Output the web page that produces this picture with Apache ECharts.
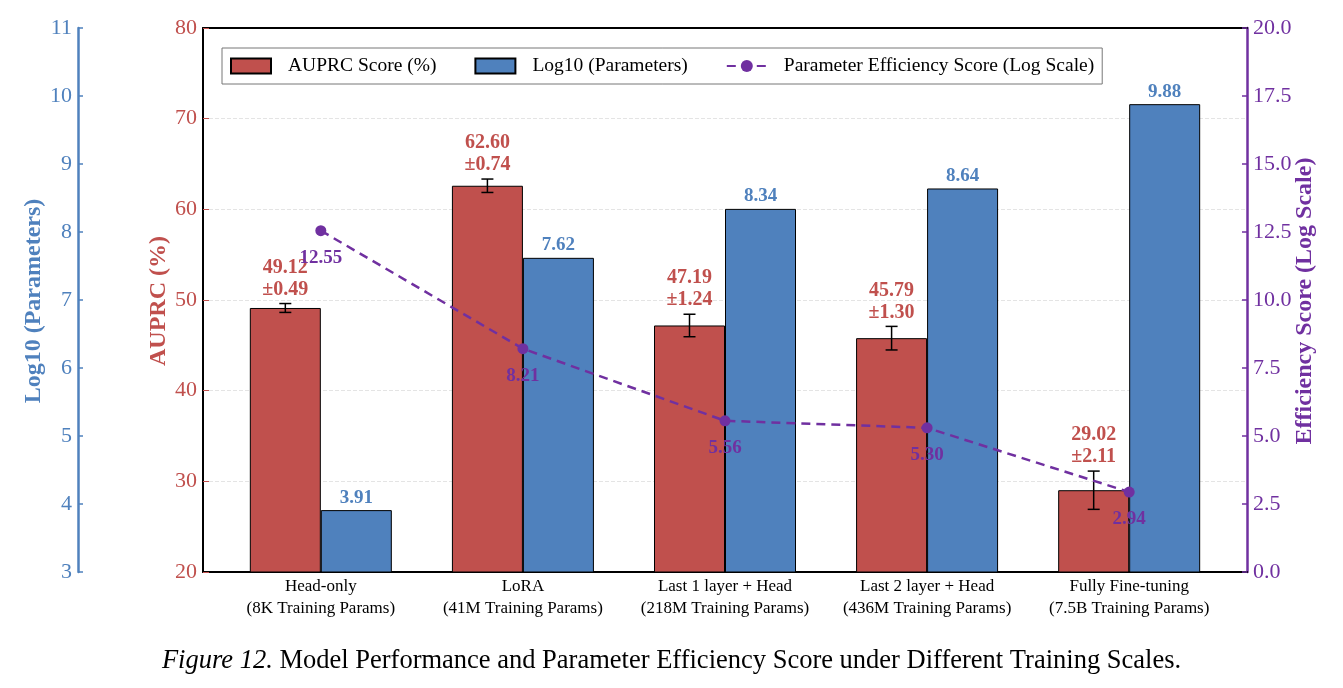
<!DOCTYPE html>
<html>
<head>
<meta charset="utf-8">
<script src="https://cdn.jsdelivr.net/npm/echarts@6/dist/echarts.min.js"></script>
<style>
  html, body { margin: 0; padding: 0; background: #fff; }
  #chart { width: 1343px; height: 688px; }
</style>
</head>
<body>
<div id="chart"></div>
<script>
// ---- data ----
var CATEGORIES = [
  'Head-only\n(8K Training Params)',
  'LoRA\n(41M Training Params)',
  'Last 1 layer + Head\n(218M Training Params)',
  'Last 2 layer + Head\n(436M Training Params)',
  'Fully Fine-tuning\n(7.5B Training Params)'
];
var AUPRC_MEAN = [49.12, 62.60, 47.19, 45.79, 29.02];
var AUPRC_STD = [0.49, 0.74, 1.24, 1.30, 2.11];
var LOG_PARAMS = [3.91, 7.62, 8.34, 8.64, 9.88];
var EFFICIENCY = [12.55, 8.21, 5.56, 5.30, 2.94];

// ---- style ----
var RED = '#C0504D';
var BLUE = '#4F81BD';
var PURPLE = '#7030A0';
var FONT = '"Liberation Serif", "DejaVu Serif", serif';
var BAR_W = 71;

var chart = echarts.init(document.getElementById('chart'));

var xIdx = CATEGORIES.map(function (c, i) { return i; });

var errorData = xIdx.map(function (i) {
  return [i, AUPRC_MEAN[i], AUPRC_STD[i]];
});

// error bar on the red bar plus its two-line value label
function renderError(params, api) {
  var x = api.value(0), m = api.value(1), s = api.value(2);
  var cx = api.coord([x, m])[0] - BAR_W / 2;
  var yt = api.coord([x, m + s])[1];
  var yb = api.coord([x, m - s])[1];
  var cap = 6;
  var st = { stroke: '#000', lineWidth: 1.5 };
  return {
    type: 'group',
    children: [
      { type: 'line', shape: { x1: cx, y1: yt, x2: cx, y2: yb }, style: st },
      { type: 'line', shape: { x1: cx - cap, y1: yt, x2: cx + cap, y2: yt }, style: st },
      { type: 'line', shape: { x1: cx - cap, y1: yb, x2: cx + cap, y2: yb }, style: st },
      {
        type: 'text',
        x: cx, y: yt - 3,
        style: {
          text: m.toFixed(2) + '\n\u00b1' + s.toFixed(2),
          fill: RED, font: 'bold 20px ' + FONT,
          align: 'center', verticalAlign: 'bottom', lineHeight: 22
        }
      }
    ]
  };
}

// axis titles: drawn as rotated bold text beside each axis
// (nameTextStyle.fontWeight did not come out bold)
function axisTitle(text, cx, color) {
  return {
    type: 'text',
    x: cx, y: 301,
    rotation: Math.PI / 2,
    style: {
      text: text, fill: color, font: 'bold 24px ' + FONT,
      align: 'center', verticalAlign: 'middle'
    }
  };
}

chart.setOption({
  animation: false,
  title: {
    left: 'center',
    top: 643,
    text: '{i|Figure 12.} Model Performance and Parameter Efficiency Score under Different Training Scales.',
    textStyle: {
      fontFamily: FONT, fontSize: 26.5, fontWeight: 'normal', color: '#000',
      rich: { i: { fontFamily: FONT, fontSize: 26.5, fontStyle: 'italic', color: '#000' } }
    }
  },
  graphic: [
    axisTitle('AUPRC (%)', 159, RED),
    axisTitle('Log10 (Parameters)', 34, BLUE),
    axisTitle('Efficiency Score (Log Scale)', 1305, PURPLE)
  ],
  legend: {
    left: 222, top: 48,
    padding: [8, 8, 8, 8],
    itemWidth: 40, itemHeight: 15, itemGap: 38,
    borderColor: '#777', borderWidth: 1,
    textStyle: { fontFamily: FONT, fontSize: 19.5, color: '#000', padding: [0, 0, 0, 12] },
    data: [
      { name: 'AUPRC Score (%)', icon: 'rect' },
      { name: 'Log10 (Parameters)', icon: 'rect' },
      { name: 'Parameter Efficiency Score (Log Scale)' }
    ]
  },
  grid: { left: 203, right: 96, top: 28, bottom: 116, containLabel: false },
  xAxis: [{
    type: 'value', min: -0.583, max: 4.583,
    axisLine: { show: true, onZero: false, lineStyle: { color: '#000', width: 2 } },
    axisTick: { show: false },
    splitLine: { show: false },
    axisLabel: {
      customValues: xIdx,
      formatter: function (v) { return CATEGORIES[Math.round(v)]; },
      fontFamily: FONT, fontSize: 17, color: '#000', lineHeight: 22, margin: 4
    }
  }, {
    type: 'value', min: -0.583, max: 4.583, position: 'top',
    axisLine: { show: true, onZero: false, lineStyle: { color: '#000', width: 2 } },
    axisTick: { show: false }, axisLabel: { show: false }, splitLine: { show: false }
  }],
  yAxis: [{
    type: 'value', min: 20, max: 80, interval: 10, position: 'left',
    axisLine: { show: true, onZero: false, lineStyle: { color: '#000', width: 2 } },
    axisTick: { show: true, inside: true, length: 6, lineStyle: { color: RED } },
    axisLabel: { fontFamily: FONT, fontSize: 22, color: RED, margin: 6 },
    splitLine: { show: true, lineStyle: { color: '#e4e4e4', type: 'dashed', width: 1 } }
  }, {
    type: 'value', min: 3, max: 11, interval: 1, position: 'left', offset: 125,
    axisLine: { show: true, onZero: false, lineStyle: { color: BLUE, width: 2.5 } },
    axisTick: { show: true, inside: true, length: 5, lineStyle: { color: BLUE, width: 1.5 } },
    axisLabel: { fontFamily: FONT, fontSize: 22, color: BLUE, margin: 6 },
    splitLine: { show: false }
  }, {
    type: 'value', min: 0, max: 20, interval: 2.5, position: 'right',
    axisLine: { show: true, onZero: false, lineStyle: { color: PURPLE, width: 2.5 } },
    axisTick: { show: true, inside: true, length: 5, lineStyle: { color: PURPLE, width: 1.5 } },
    axisLabel: {
      fontFamily: FONT, fontSize: 22, color: PURPLE, margin: 6,
      formatter: function (v) { return v.toFixed(1); }
    },
    splitLine: { show: false }
  }],
  series: [{
    name: 'AUPRC Score (%)', type: 'bar',
    xAxisIndex: 0, yAxisIndex: 0,
    barWidth: BAR_W, barGap: '0%',
    itemStyle: { color: RED, borderColor: '#000', borderWidth: 1 },
    data: xIdx.map(function (i) { return [i, AUPRC_MEAN[i]]; }),
    z: 2
  }, {
    name: 'Log10 (Parameters)', type: 'bar',
    xAxisIndex: 0, yAxisIndex: 1,
    barWidth: BAR_W, barGap: '0%',
    itemStyle: { color: BLUE, borderColor: '#000', borderWidth: 1 },
    label: {
      show: true, position: 'top', distance: 3,
      fontFamily: FONT, fontSize: 19, fontWeight: 'bold', color: BLUE,
      formatter: function (p) { return p.value[1].toFixed(2); }
    },
    data: xIdx.map(function (i) { return [i, LOG_PARAMS[i]]; }),
    z: 2
  }, {
    name: 'AUPRC error', type: 'custom',
    xAxisIndex: 0, yAxisIndex: 0,
    renderItem: renderError,
    data: errorData,
    clip: false,
    z: 4
  }, {
    name: 'Parameter Efficiency Score (Log Scale)', type: 'line',
    xAxisIndex: 0, yAxisIndex: 2,
    symbol: 'circle', symbolSize: 11,
    lineStyle: { color: PURPLE, width: 2.5, type: [9, 6] },
    itemStyle: { color: PURPLE },
    label: {
      show: true, position: 'bottom', distance: 12,
      fontFamily: FONT, fontSize: 19, fontWeight: 'bold', color: PURPLE,
      formatter: function (p) { return p.value[1].toFixed(2); }
    },
    data: xIdx.map(function (i) { return [i, EFFICIENCY[i]]; }),
    z: 5
  }]
});
</script>
</body>
</html>
